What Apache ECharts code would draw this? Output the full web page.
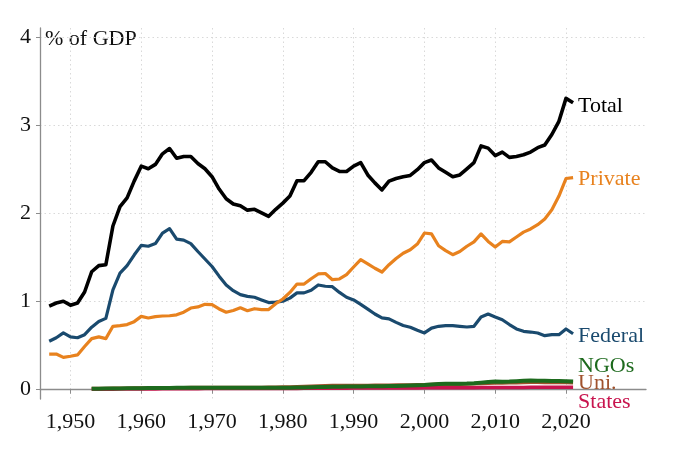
<!DOCTYPE html>
<html><head><meta charset="utf-8">
<script src="https://cdn.jsdelivr.net/npm/echarts@6/dist/echarts.min.js"></script>
<style>html,body{margin:0;padding:0;background:#fff}#c{width:680px;height:451px}</style>
</head><body><div id="c"></div>
<script>
const years = [];
for (let y = 1947; y <= 2021; y++) years.push(y);
const xTicks = [1950, 1960, 1970, 1980, 1990, 2000, 2010, 2020];
const yTicks = [0, 1, 2, 3, 4];

const total = [0.95,0.985,1.005,0.96,0.985,1.11,1.34,1.41,1.42,1.86,2.08,2.18,2.37,2.54,2.51,2.56,2.68,2.74,2.63,2.65,2.65,2.57,2.51,2.42,2.28,2.17,2.11,2.09,2.04,2.05,2.01,1.97,2.05,2.12,2.20,2.375,2.375,2.47,2.59,2.59,2.52,2.48,2.48,2.54,2.58,2.44,2.35,2.27,2.37,2.40,2.42,2.435,2.50,2.58,2.61,2.52,2.47,2.42,2.44,2.51,2.58,2.77,2.745,2.66,2.70,2.64,2.65,2.67,2.70,2.75,2.78,2.90,3.05,3.31,3.26];
const privateS = [0.405,0.405,0.367,0.38,0.395,0.49,0.58,0.60,0.58,0.72,0.727,0.74,0.773,0.833,0.815,0.83,0.837,0.84,0.85,0.88,0.928,0.94,0.97,0.966,0.917,0.88,0.90,0.93,0.897,0.92,0.91,0.91,0.977,1.03,1.105,1.20,1.20,1.26,1.315,1.32,1.25,1.258,1.307,1.394,1.477,1.43,1.38,1.337,1.42,1.49,1.55,1.59,1.655,1.78,1.77,1.636,1.58,1.534,1.57,1.63,1.68,1.77,1.685,1.62,1.685,1.68,1.735,1.79,1.826,1.875,1.94,2.045,2.20,2.40,2.41];
const federal = [0.55,0.59,0.645,0.60,0.59,0.625,0.71,0.775,0.81,1.135,1.325,1.41,1.53,1.64,1.63,1.66,1.78,1.83,1.71,1.70,1.66,1.57,1.485,1.40,1.29,1.19,1.125,1.08,1.06,1.05,1.02,0.99,0.995,1.005,1.04,1.10,1.10,1.13,1.19,1.175,1.17,1.105,1.05,1.02,0.97,0.915,0.86,0.815,0.805,0.765,0.73,0.71,0.675,0.645,0.70,0.72,0.727,0.727,0.72,0.712,0.72,0.826,0.86,0.826,0.795,0.74,0.69,0.663,0.655,0.644,0.614,0.625,0.625,0.69,0.636];
const ngos = [null,null,null,null,null,null,0.010,0.011,0.012,0.013,0.014,0.015,0.016,0.017,0.018,0.019,0.020,0.020,0.021,0.021,0.022,0.022,0.022,0.023,0.022,0.022,0.022,0.021,0.021,0.021,0.021,0.021,0.022,0.022,0.023,0.024,0.025,0.027,0.029,0.031,0.033,0.034,0.035,0.036,0.037,0.038,0.039,0.040,0.041,0.042,0.044,0.046,0.049,0.052,0.058,0.064,0.066,0.066,0.067,0.069,0.073,0.080,0.088,0.092,0.090,0.092,0.096,0.100,0.104,0.102,0.100,0.099,0.098,0.097,0.092];
const uni = [null,null,null,null,null,null,0.012,0.013,0.014,0.015,0.016,0.017,0.018,0.019,0.020,0.021,0.022,0.022,0.023,0.023,0.024,0.024,0.024,0.025,0.025,0.025,0.025,0.025,0.025,0.026,0.026,0.027,0.028,0.029,0.031,0.033,0.036,0.039,0.042,0.045,0.047,0.048,0.048,0.048,0.048,0.048,0.049,0.050,0.051,0.052,0.053,0.054,0.055,0.057,0.059,0.061,0.062,0.062,0.063,0.064,0.066,0.070,0.074,0.077,0.077,0.078,0.080,0.082,0.083,0.083,0.082,0.082,0.081,0.081,0.079];
const states = [null,null,null,null,null,null,0.005,0.005,0.006,0.006,0.007,0.007,0.008,0.008,0.009,0.009,0.010,0.010,0.010,0.011,0.011,0.011,0.012,0.012,0.012,0.012,0.012,0.012,0.012,0.013,0.013,0.013,0.013,0.013,0.014,0.014,0.015,0.015,0.016,0.016,0.017,0.017,0.017,0.018,0.018,0.018,0.018,0.019,0.019,0.019,0.020,0.020,0.020,0.021,0.021,0.021,0.021,0.022,0.022,0.022,0.023,0.024,0.025,0.026,0.026,0.026,0.026,0.026,0.027,0.027,0.027,0.027,0.027,0.028,0.028];

const seriesNames = ['Total','Private','Federal','NGOs','Uni.','States'];
const FONT = 'Liberation Serif';

function pair(arr){ return years.map((y,i)=>[y, arr[i]]); }

function mk(name, data, color, width, offset, z){
  return {
    name, type:'line', data: pair(data), showSymbol:false, symbol:'none',
    lineStyle:{color, width, join:'round', cap:'butt'}, itemStyle:{color},
    z, animation:false, connectNulls:false,
    endLabel:{show:true, formatter:name, color, fontFamily:FONT, fontSize:22,
      distance:5, offset: offset, align:'left', verticalAlign:'middle'}
  };
}

const chart = echarts.init(document.getElementById('c'));
chart.setOption({
  animation:false,
  backgroundColor:'#fff',
  grid:{left:40, right:34, top:28, bottom:52, containLabel:false},
  xAxis:{type:'value', min:1945.7, max:2031.3,
    axisLine:{show:true, lineStyle:{color:'#8c8c8c', width:1.3}},
    axisTick:{show:true, length:4, lineStyle:{color:'#8c8c8c'}, customValues:xTicks},
    axisLabel:{customValues:xTicks, color:'#111', fontFamily:FONT, fontSize:22, margin:12},
    splitLine:{show:true, lineStyle:{color:'#d9d9d9', type:[1.5,3], width:1}}
  },
  yAxis:{type:'value', min:-0.106, max:4.11,
    axisLine:{show:true, lineStyle:{color:'#8c8c8c', width:1.3}},
    axisTick:{show:true, length:4, lineStyle:{color:'#8c8c8c'}, customValues:yTicks},
    axisLabel:{customValues:yTicks, color:'#111', fontFamily:FONT, fontSize:22, margin:9},
    splitLine:{show:true, lineStyle:{color:'#d9d9d9', type:[1.5,3], width:1}}
  },
  graphic:[{type:'text', left:45, top:28, style:{text:'% of GDP', fill:'#111', font:'22px "Liberation Serif"'}}],
  series:[
    mk('Uni.', uni, '#a0522d', 3.5, [0,0], 2),
    mk('States', states, '#c8144e', 3.5, [0,15], 3),
    mk('NGOs', ngos, '#1d6a1d', 4, [0,-15], 4),
    mk('Federal', federal, '#1a4a6e', 3.2, [0,3], 5),
    mk('Private', privateS, '#e8821e', 3.2, [0,2], 6),
    mk('Total', total, '#000000', 3.6, [0,3], 7)
  ]
});
</script></body></html>
